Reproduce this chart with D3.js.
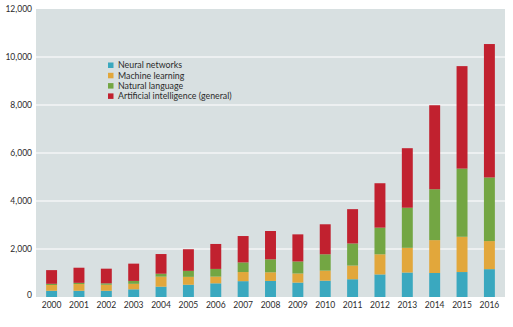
<!DOCTYPE html>
<html>
<head>
<meta charset="utf-8">
<script src="https://cdn.jsdelivr.net/npm/d3@7"></script>
<style>
  body { margin: 0; background: #fff; }
  svg text { font-family: Lato, "Open Sans", sans-serif; fill: #2b2b2b; }
</style>
</head>
<body>
<svg id="chart" width="513" height="327"></svg>
<script>
// publications per year, by topic
let years = ["2000", "2001", "2002", "2003", "2004", "2005", "2006", "2007", "2008",
  "2009", "2010", "2011", "2012", "2013", "2014", "2015", "2016"];
let neuralNetworks = [260, 260, 260, 320, 430, 510, 570, 660, 670, 600, 680, 740, 940, 1020, 1000, 1040, 1160];
let machineLearning = [240, 280, 250, 230, 420, 330, 280, 380, 360, 380, 420, 570, 840, 1030, 1370, 1470, 1170];
let naturalLanguage = [50, 50, 60, 120, 120, 250, 320, 400, 540, 500, 680, 920, 1110, 1670, 2120, 2840, 2650];
let artificialIntelligence = [570, 630, 610, 720, 820, 900, 1040, 1100, 1180, 1130, 1250, 1430, 1850, 2480, 3500, 4270, 5560];

let seriesNames = ["Neural networks", "Machine learning", "Natural language", "Artificial intelligence (general)"];
let seriesColors = ["#3aa8bf", "#e2a73b", "#73a643", "#c1212f"];
let yTicks = [0, 2000, 4000, 6000, 8000, 10000, 12000];

let rows = years.map((yr, i) => ({
  year: yr,
  "Neural networks": neuralNetworks[i],
  "Machine learning": machineLearning[i],
  "Natural language": naturalLanguage[i],
  "Artificial intelligence (general)": artificialIntelligence[i]
}));

let svg = d3.select("#chart");
let plot = { left: 36, right: 505, top: 9, bottom: 297 };

let x = d3.scaleBand()
  .domain(years)
  .range([plot.left, plot.right])
  .paddingInner(0.6)
  .paddingOuter(0.37);

let y = d3.scaleLinear()
  .domain([0, 12000])
  .range([plot.bottom, plot.top]);

let color = d3.scaleOrdinal(seriesNames, seriesColors);

// plot background
svg.append("rect")
  .attr("x", plot.left)
  .attr("y", plot.top)
  .attr("width", plot.right - plot.left)
  .attr("height", plot.bottom - plot.top)
  .attr("fill", "#d8e0e1");

// gridlines
svg.append("g")
  .selectAll("line")
  .data(yTicks.filter(d => d > 0 && d < 12000))
  .enter()
  .append("line")
  .attr("x1", plot.left)
  .attr("x2", plot.right)
  .attr("y1", d => y(d))
  .attr("y2", d => y(d))
  .attr("stroke", "#f4f6f6")
  .attr("stroke-width", 1.3);

// stacked bars
let stack = d3.stack().keys(seriesNames);
let layers = stack(rows);

svg.append("g")
  .selectAll("g")
  .data(layers)
  .enter()
  .append("g")
  .attr("fill", d => color(d.key))
  .selectAll("rect")
  .data(d => d)
  .enter()
  .append("rect")
  .attr("x", d => x(d.data.year))
  .attr("width", x.bandwidth())
  .attr("y", d => y(d[1]))
  .attr("height", d => y(d[0]) - y(d[1]));

// y axis
let yAxis = svg.append("g")
  .attr("transform", `translate(${plot.left},0)`)
  .call(d3.axisLeft(y).tickValues(yTicks).tickSize(0).tickPadding(4).tickFormat(d3.format(",")));
yAxis.select(".domain").remove();
yAxis.selectAll("text")
  .attr("font-size", 8.5)
  .attr("dy", d => d === 0 ? "0.1em" : "0.32em");

// x axis
let xAxis = svg.append("g")
  .attr("transform", `translate(0,${plot.bottom})`)
  .call(d3.axisBottom(x).tickSize(0).tickPadding(5));
xAxis.select(".domain").remove();
xAxis.selectAll("text")
  .attr("font-size", 8.5);

// legend
let legend = svg.append("g")
  .attr("transform", "translate(108,61)");

let item = legend.selectAll("g")
  .data(seriesNames)
  .enter()
  .append("g")
  .attr("transform", (d, i) => `translate(0,${i * 10.3})`);

item.append("rect")
  .attr("width", 5.5)
  .attr("height", 5.5)
  .attr("y", 1.5)
  .attr("fill", d => color(d));

item.append("text")
  .attr("x", 10)
  .attr("y", 4.2)
  .attr("dy", "0.35em")
  .attr("font-size", 8.8)
  .text(d => d);
</script>
</body>
</html>
